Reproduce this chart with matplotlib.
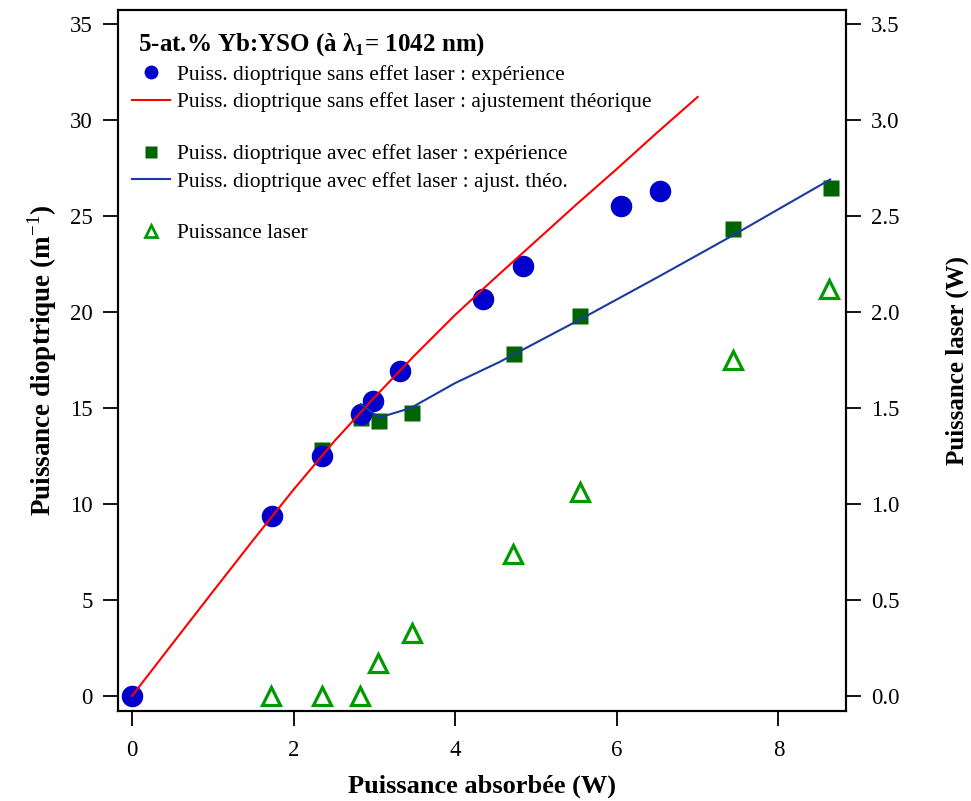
import matplotlib.pyplot as plt
from matplotlib.lines import Line2D

plt.rcParams['font.family'] = ['Liberation Serif', 'DejaVu Serif']
plt.rcParams['mathtext.fontset'] = 'custom'
plt.rcParams['mathtext.rm'] = 'Liberation Serif'
plt.rcParams['mathtext.bf'] = 'Liberation Serif:bold'

# Puissance dioptrique sans effet laser (experience)
p_abs_sans = [0, 1.73, 2.35, 2.83, 2.98, 3.32, 4.35, 4.84, 6.05, 6.54]
pd_sans = [0, 9.4, 12.5, 14.7, 15.35, 16.95, 20.7, 22.4, 25.5, 26.3]

# ajustement theorique sans effet laser
fit_x_sans = [0, 0.5, 1, 1.5, 2, 2.5, 3, 3.5, 4, 4.5, 5, 5.5, 6, 6.5, 7]
fit_y_sans = [0, 2.72, 5.43, 8.12, 10.75, 13.25, 15.55, 17.75, 19.85, 21.8,
              23.7, 25.6, 27.45, 29.35, 31.2]

# Puissance dioptrique avec effet laser (experience)
p_abs_avec = [2.35, 2.83, 3.06, 3.47, 4.73, 5.54, 7.44, 8.65]
pd_avec = [12.8, 14.5, 14.3, 14.75, 17.8, 19.8, 24.3, 26.45]

# ajustement theorique avec effet laser
fit_x_avec = [2.83, 3.06, 3.45, 4.0, 4.55, 5.54, 6.5, 7.44, 8.64]
fit_y_avec = [15.2, 14.5, 15.0, 16.3, 17.4, 19.6, 21.8, 24.0, 26.9]

# Puissance laser (axe de droite)
p_abs_laser = [1.72, 2.35, 2.82, 3.05, 3.47, 4.72, 5.55, 7.44, 8.63]
p_laser = [0.0, 0.0, 0.0, 0.17, 0.33, 0.74, 1.06, 1.75, 2.12]

fig = plt.figure(figsize=(9.71, 8.01), dpi=100)
ax = fig.add_axes([0.1215, 0.1124, 0.7498, 0.8751])
ax2 = ax.twinx()

blue_pts = '#0000CC'
red = '#FF0000'
dgreen = '#006400'
blue_line = '#1A3A9E'
green = '#009900'

ax.plot(fit_x_sans, fit_y_sans, color=red, lw=1.5, zorder=3)
ax.plot(p_abs_avec, pd_avec, 's', color=dgreen, ms=11, mec='none', zorder=2)
ax.plot(fit_x_avec, fit_y_avec, color=blue_line, lw=1.5, zorder=3)
ax.plot(p_abs_sans, pd_sans, 'o', color=blue_pts, ms=15.5, mec='none', zorder=2.5)
ax2.plot(p_abs_laser, p_laser, '^', color=green, mfc='white', ms=13, mew=2.3)

ax.set_xlim(-0.173, 8.837)
ax.set_ylim(-0.78, 35.73)
ax2.set_ylim(-0.078, 3.573)
ax.set_xticks([0, 2, 4, 6, 8])
ax.set_yticks([0, 5, 10, 15, 20, 25, 30, 35])
ax2.set_yticks([0, 0.5, 1.0, 1.5, 2.0, 2.5, 3.0, 3.5])
ax2.set_yticklabels(['%.1f' % v for v in ax2.get_yticks()])

for a in (ax, ax2):
    a.tick_params(direction='out', length=11, width=1.3, labelsize=16.5, pad=7)
    for s in a.spines.values():
        s.set_linewidth(1.5)
ax.tick_params(axis='x', pad=10)

ax.set_xlabel('Puissance absorbée (W)', fontsize=19, fontweight='bold', labelpad=10)
ax.set_ylabel('Puissance dioptrique (m$^{-1}$)', fontsize=19.5, fontweight='bold', labelpad=8)
ax2.set_ylabel('Puissance laser (W)', fontsize=18, fontweight='bold', labelpad=33)

# legende
handles = [
    Line2D([], [], ls='none', marker='o', color=blue_pts, ms=10, mec='none'),
    Line2D([], [], color=red, lw=1.5),
    Line2D([], [], ls='none'),
    Line2D([], [], ls='none', marker='s', color=dgreen, ms=9, mec='none'),
    Line2D([], [], color=blue_line, lw=1.5),
    Line2D([], [], ls='none'),
    Line2D([], [], ls='none', marker='^', color=green, mfc='white', ms=8, mew=2),
]
labels = [
    'Puiss. dioptrique sans effet laser : expérience',
    'Puiss. dioptrique sans effet laser : ajustement théorique',
    ' ',
    'Puiss. dioptrique avec effet laser : expérience',
    'Puiss. dioptrique avec effet laser : ajust. théo.',
    ' ',
    'Puissance laser',
]
leg = ax2.legend(handles, labels, loc='upper left', bbox_to_anchor=(-0.005, 0.995),
                 frameon=False, fontsize=15.5, handlelength=1.8, handletextpad=0.3,
                 labelspacing=0.34, borderaxespad=0.4,
                 title=' 5-at.% Yb:YSO (à λ$_{\\mathbf{1}}$= 1042 nm)',
                 title_fontproperties={'size': 18, 'weight': 'bold'})
leg._legend_box.align = 'left'
# lignes vides plus basses
leg.get_texts()[2].set_fontsize(6)
leg.get_texts()[5].set_fontsize(6)

fig.savefig('out.png', dpi=100)
